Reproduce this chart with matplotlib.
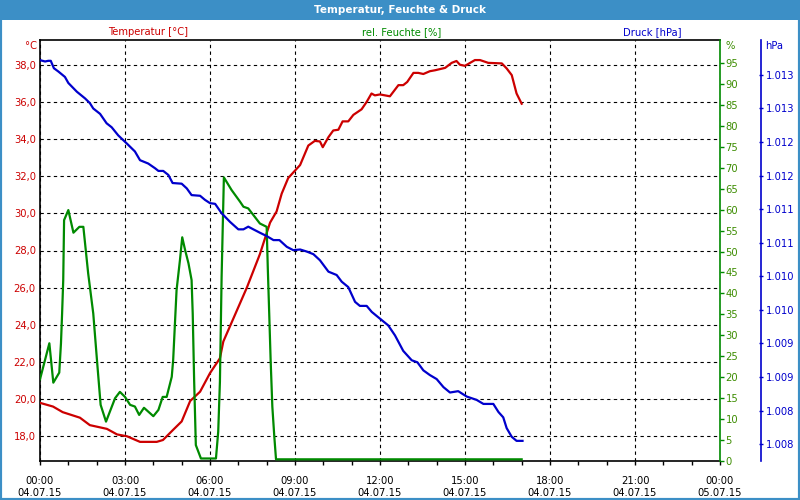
import numpy as np
import matplotlib.pyplot as plt
from matplotlib.patches import Rectangle
from matplotlib.ticker import FixedLocator, MultipleLocator

# hours since 04.07.15 00:00
temp_t = [0, 0.46, 0.8, 1.41, 1.76, 2.36, 2.72, 3.07, 3.53, 4.12, 4.34, 4.7, 5.0, 5.3,
          5.65, 6.0, 6.35, 6.47, 7.3, 7.76, 8.12, 8.35, 8.53, 8.76, 9.0, 9.18, 9.47,
          9.7, 9.88, 9.98, 10.18, 10.35, 10.53, 10.68, 10.88, 11.06, 11.35, 11.53, 11.7,
          11.82, 12.0, 12.35, 12.65, 12.82, 12.96, 13.18, 13.35, 13.53, 13.76, 13.94,
          14.3, 14.53, 14.7, 14.82, 15.0, 15.35, 15.53, 15.82, 16.3, 16.47, 16.65, 16.82, 17.0]
temp_v = [19.8, 19.6, 19.3, 19.0, 18.6, 18.4, 18.1, 18.0, 17.7, 17.7, 17.8, 18.35, 18.8, 19.9,
          20.4, 21.4, 22.2, 23.1, 26.0, 27.8, 29.5, 30.1, 31.06, 31.9, 32.3, 32.6, 33.65,
          33.9, 33.87, 33.56, 34.1, 34.46, 34.5, 34.95, 34.95, 35.3, 35.6, 36.0, 36.45,
          36.35, 36.4, 36.3, 36.9, 36.9, 37.07, 37.56, 37.56, 37.5, 37.65, 37.7,
          37.83, 38.1, 38.2, 38.0, 37.94, 38.25, 38.25, 38.1, 38.07, 37.8, 37.44, 36.45, 35.9]

hum_t = [0, 0.33, 0.47, 0.68, 0.74, 0.78, 0.82, 0.85, 1.0, 1.18, 1.39, 1.53, 1.7, 1.88,
         2.02, 2.14, 2.33, 2.65, 2.82, 3.0, 3.18, 3.35, 3.5, 3.67, 4.0, 4.18, 4.33, 4.47,
         4.65, 4.7, 4.82, 4.94, 5.02, 5.12, 5.24, 5.35, 5.39, 5.44, 5.5, 5.68, 6.21, 6.29,
         6.35, 6.41, 6.45, 6.49, 6.76, 7.06, 7.18, 7.35, 7.76, 8.0, 8.04, 8.09, 8.14, 8.2,
         8.27, 8.33, 17.0]
hum_v = [19.5, 28.1, 18.7, 21.1, 28.1, 35.2, 43.2, 57.5, 59.9, 54.5, 55.9, 55.9, 44.8, 35.2,
         23.3, 13.4, 9.4, 15.0, 16.5, 15.3, 13.4, 13.0, 11.0, 12.7, 10.7, 12.2, 15.3, 15.3,
         20.1, 24.1, 40.8, 48.0, 53.4, 50.4, 47.2, 43.2, 35.2, 19.3, 3.8, 0.6, 0.6, 7.0,
         18.9, 44.0, 55.9, 67.7, 64.7, 61.9, 60.7, 60.3, 56.7, 55.9, 46.0, 35.2, 24.1, 13.0,
         5.8, 0.4, 0.4]

pres_t = [0, 0.18, 0.29, 0.38, 0.49, 0.65, 0.88, 1.0, 1.3, 1.59, 1.76, 1.88, 2.12, 2.35,
          2.53, 2.76, 3.06, 3.35, 3.53, 3.82, 4.06, 4.18, 4.35, 4.53, 4.68, 5.0, 5.18, 5.35,
          5.65, 5.82, 6.0, 6.18, 6.41, 6.71, 7.0, 7.18, 7.35, 7.53, 7.76, 8.0, 8.24, 8.45,
          8.71, 8.94, 9.18, 9.41, 9.65, 9.88, 10.18, 10.47, 10.65, 10.88, 11.12, 11.29,
          11.53, 11.71, 11.94, 12.29, 12.53, 12.82, 13.12, 13.32, 13.53, 13.76, 14.0, 14.24,
          14.47, 14.76, 15.06, 15.41, 15.65, 16.0, 16.18, 16.35, 16.47, 16.65, 16.82, 17.03]
pres_v = [1013.22, 1013.2, 1013.21, 1013.21, 1013.1, 1013.05, 1012.97, 1012.88, 1012.75,
          1012.65, 1012.58, 1012.5, 1012.42, 1012.28, 1012.22, 1012.1, 1011.98, 1011.86,
          1011.73, 1011.68, 1011.61, 1011.57, 1011.57, 1011.51, 1011.39, 1011.38, 1011.31,
          1011.21, 1011.2, 1011.14, 1011.09, 1011.08, 1010.94, 1010.81, 1010.7, 1010.7,
          1010.74, 1010.7, 1010.65, 1010.6, 1010.54, 1010.54, 1010.44, 1010.39, 1010.4,
          1010.37, 1010.33, 1010.24, 1010.07, 1010.02, 1009.92, 1009.84, 1009.62, 1009.56,
          1009.56, 1009.47, 1009.39, 1009.27, 1009.12, 1008.89, 1008.75, 1008.72, 1008.6,
          1008.53, 1008.47, 1008.35, 1008.27, 1008.29, 1008.21, 1008.16, 1008.1, 1008.1,
          1007.98, 1007.9, 1007.74, 1007.61, 1007.55, 1007.55]

x_ticks = [0, 3, 6, 9, 12, 15, 18, 21, 24]
x_labels = ['00:00\n04.07.15', '03:00\n04.07.15', '06:00\n04.07.15', '09:00\n04.07.15',
            '12:00\n04.07.15', '15:00\n04.07.15', '18:00\n04.07.15', '21:00\n04.07.15',
            '00:00\n05.07.15']
temp_ticks = [18, 20, 22, 24, 26, 28, 30, 32, 34, 36, 38]
hum_ticks = list(range(0, 100, 5))
pres_ticks = [1007.5, 1008.0, 1008.5, 1009.0, 1009.5, 1010.0, 1010.5, 1011.0,
              1011.5, 1012.0, 1012.5, 1013.0]
pres_labels = ['1.008', '1.008', '1.009', '1.009', '1.010', '1.010', '1.011', '1.011',
               '1.012', '1.012', '1.013', '1.013']

RED = '#cc0000'
GREEN = '#008a00'
GREEN_TXT = '#3c8c00'
BLUE = '#0000cc'
FRAME = '#3c8fc6'

plt.rcParams['font.family'] = 'DejaVu Sans'
fig = plt.figure(figsize=(8, 5), dpi=100)
fig.patch.set_facecolor('white')

# window frame + title bar
fig.patches.append(Rectangle((0, 0), 1, 1, transform=fig.transFigure, fill=False,
                             edgecolor=FRAME, linewidth=3, zorder=0))
fig.patches.append(Rectangle((0, 480 / 500), 1, 20 / 500, transform=fig.transFigure,
                             facecolor=FRAME, edgecolor='none', zorder=1))
fig.text(0.5, 490 / 500, 'Temperatur, Feuchte & Druck', color='white', fontsize=7.5,
         fontweight='bold', ha='center', va='center')

ax = fig.add_axes([40 / 800, 1 - 461 / 500, 680 / 800, 421 / 500])
ax.set_xlim(0, 24)
ax.set_ylim(16.67, 39.33)
ax.set_xticks(x_ticks)
ax.set_xticklabels(x_labels, fontsize=7.2)
ax.xaxis.set_minor_locator(MultipleLocator(1))
ax.tick_params(axis='x', which='both', length=3, width=1, pad=8, color='black')
ax.set_yticks(temp_ticks)
ax.set_yticklabels([('%.1f' % v).replace('.', ',') for v in temp_ticks], fontsize=7.2, color=RED)
ax.tick_params(axis='y', length=0, pad=3)
ax.grid(True, color='black', linestyle=(0, (3, 3)), linewidth=0.8)
for s in ['top', 'left', 'bottom']:
    ax.spines[s].set_linewidth(1.2)
ax.spines['right'].set_visible(False)

ax2 = ax.twinx()
ax2.set_ylim(0, 100.5)
ax2.yaxis.set_major_locator(FixedLocator(hum_ticks))
ax2.set_yticklabels([str(v) for v in hum_ticks], fontsize=7.2, color=GREEN_TXT)
ax2.tick_params(axis='y', length=3, width=1, color=GREEN, pad=1)
ax2.spines['right'].set_color(GREEN)
ax2.spines['right'].set_linewidth(1.2)
for s in ['top', 'left', 'bottom']:
    ax2.spines[s].set_visible(False)

ax3 = ax.twinx()
ax3.set_ylim(1007.25, 1013.52)
ax3.spines['right'].set_position(('axes', 721 / 680))
ax3.spines['right'].set_color(BLUE)
ax3.spines['right'].set_linewidth(1.2)
for s in ['top', 'left', 'bottom']:
    ax3.spines[s].set_visible(False)
ax3.yaxis.set_major_locator(FixedLocator(pres_ticks))
ax3.set_yticklabels(pres_labels, fontsize=7.2, color=BLUE)
ax3.tick_params(axis='y', length=3, width=1, color=BLUE, direction='inout', pad=2)

ax.plot(temp_t, temp_v, color=RED, linewidth=1.6, zorder=5)
ax2.plot(hum_t, hum_v, color=GREEN, linewidth=1.6, zorder=5)
ax3.plot(pres_t, pres_v, color=BLUE, linewidth=1.6, zorder=5)

# series captions and unit labels
fig.text(148 / 800, 1 - 32 / 500, 'Temperatur [°C]', color=RED, fontsize=7.2, ha='center', va='center')
fig.text(402 / 800, 1 - 32 / 500, 'rel. Feuchte [%]', color=GREEN, fontsize=7.2, ha='center', va='center')
fig.text(652 / 800, 1 - 32 / 500, 'Druck [hPa]', color=BLUE, fontsize=7.2, ha='center', va='center')
fig.text(37 / 800, 1 - 46 / 500, '°C', color=RED, fontsize=7.2, ha='right', va='center')
fig.text(725 / 800, 1 - 46 / 500, '%', color=GREEN_TXT, fontsize=7.2, ha='left', va='center')
fig.text(765 / 800, 1 - 46 / 500, 'hPa', color=BLUE, fontsize=7.2, ha='left', va='center')

fig.savefig('out.png', dpi=100)
